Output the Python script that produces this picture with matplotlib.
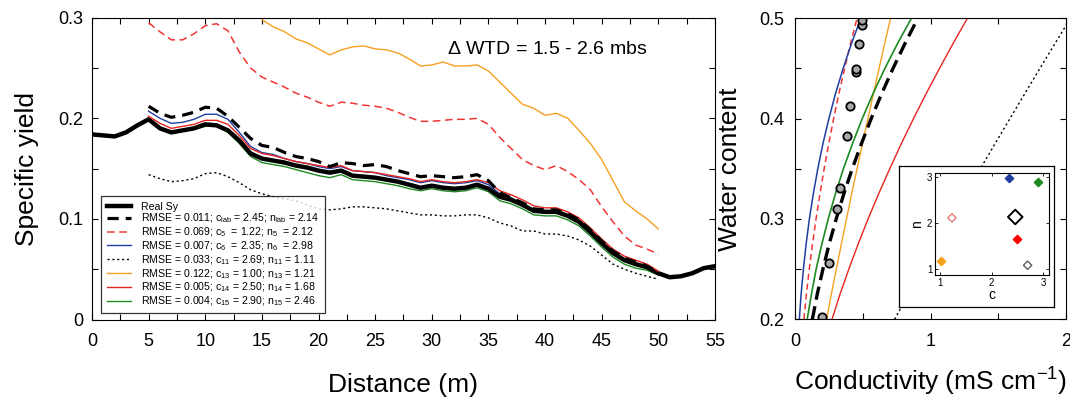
import numpy as np
import matplotlib
matplotlib.use("Agg")
import matplotlib.pyplot as plt
from matplotlib.ticker import MultipleLocator, FuncFormatter

plt.rcParams['font.family'] = ['Liberation Sans', 'DejaVu Sans']
plt.rcParams['mathtext.fontset'] = 'custom'
plt.rcParams['mathtext.rm'] = 'Liberation Sans'
plt.rcParams['mathtext.it'] = 'Liberation Sans:italic'

# ---- left panel: specific yield along the profile ----
dist_real = np.arange(0, 56)
sy_real = [0.184, 0.183, 0.182, 0.186, 0.193, 0.199, 0.190, 0.186, 0.188, 0.190,
           0.194, 0.193, 0.188, 0.178, 0.165, 0.160, 0.158, 0.156, 0.153, 0.151,
           0.148, 0.146, 0.148, 0.143, 0.142, 0.141, 0.139, 0.137, 0.134, 0.131,
           0.133, 0.131, 0.130, 0.131, 0.134, 0.130, 0.122, 0.119, 0.114, 0.108,
           0.107, 0.107, 0.103, 0.097, 0.087, 0.076, 0.066, 0.059, 0.055, 0.052,
           0.046, 0.042, 0.043, 0.046, 0.051, 0.053]

dist_model = np.arange(5, 51)
sy_lab = [0.212, 0.205, 0.201, 0.203, 0.206, 0.211, 0.210, 0.202, 0.191, 0.180,
          0.173, 0.171, 0.166, 0.162, 0.160, 0.157, 0.152, 0.156, 0.155, 0.153,
          0.154, 0.152, 0.148, 0.145, 0.142, 0.143, 0.142, 0.141, 0.142, 0.144,
          0.138, 0.126, 0.121, 0.116, 0.110, 0.109, 0.109, 0.105, 0.099, 0.089,
          0.078, 0.068, 0.061, 0.057, 0.053, 0.047]
sy_c5 = [0.295, 0.286, 0.278, 0.278, 0.284, 0.292, 0.294, 0.287, 0.266, 0.250,
         0.241, 0.236, 0.231, 0.225, 0.221, 0.216, 0.212, 0.216, 0.215, 0.213,
         0.212, 0.210, 0.206, 0.201, 0.197, 0.197, 0.198, 0.199, 0.199, 0.200,
         0.194, 0.181, 0.170, 0.159, 0.153, 0.149, 0.153, 0.147, 0.139, 0.129,
         0.112, 0.097, 0.083, 0.074, 0.070, 0.065]
sy_c6 = [0.207, 0.200, 0.195, 0.196, 0.199, 0.204, 0.204, 0.199, 0.186, 0.172,
         0.166, 0.164, 0.160, 0.157, 0.155, 0.152, 0.150, 0.152, 0.148, 0.147,
         0.146, 0.143, 0.141, 0.139, 0.136, 0.138, 0.136, 0.135, 0.136, 0.138,
         0.134, 0.125, 0.121, 0.115, 0.109, 0.108, 0.108, 0.104, 0.098, 0.088,
         0.077, 0.067, 0.060, 0.056, 0.052, 0.046]
sy_c11 = [0.144, 0.140, 0.137, 0.138, 0.140, 0.145, 0.146, 0.142, 0.136, 0.129,
          0.125, 0.122, 0.120, 0.118, 0.114, 0.110, 0.109, 0.110, 0.112, 0.112,
          0.111, 0.110, 0.108, 0.106, 0.104, 0.104, 0.103, 0.103, 0.104, 0.104,
          0.101, 0.096, 0.093, 0.088, 0.088, 0.085, 0.085, 0.083, 0.079, 0.073,
          0.064, 0.055, 0.050, 0.046, 0.043, 0.040]
dist_c13 = np.arange(15, 51)
sy_c13 = [0.298, 0.291, 0.286, 0.279, 0.275, 0.269, 0.263, 0.268, 0.271, 0.272,
          0.269, 0.268, 0.265, 0.259, 0.252, 0.253, 0.256, 0.252, 0.252, 0.253,
          0.247, 0.236, 0.225, 0.214, 0.210, 0.203, 0.205, 0.200, 0.188, 0.175,
          0.159, 0.138, 0.117, 0.108, 0.100, 0.090]
sy_c14 = [0.202, 0.195, 0.190, 0.192, 0.194, 0.198, 0.198, 0.194, 0.183, 0.170,
          0.165, 0.163, 0.160, 0.157, 0.155, 0.153, 0.151, 0.153, 0.148, 0.147,
          0.146, 0.144, 0.142, 0.140, 0.137, 0.139, 0.137, 0.136, 0.137, 0.139,
          0.136, 0.128, 0.124, 0.119, 0.113, 0.111, 0.111, 0.107, 0.101, 0.091,
          0.080, 0.070, 0.063, 0.059, 0.055, 0.048]
sy_c15 = [0.199, 0.189, 0.185, 0.187, 0.189, 0.192, 0.192, 0.186, 0.175, 0.162,
          0.156, 0.154, 0.152, 0.149, 0.146, 0.143, 0.141, 0.144, 0.139, 0.138,
          0.137, 0.135, 0.133, 0.130, 0.128, 0.130, 0.128, 0.127, 0.128, 0.131,
          0.127, 0.118, 0.115, 0.110, 0.104, 0.103, 0.103, 0.099, 0.093, 0.083,
          0.072, 0.062, 0.055, 0.051, 0.049, 0.044]

labels = ['Real Sy',
          r'RMSE = 0.011; c$_{\mathrm{lab}}$ = 2.45; n$_{\mathrm{lab}}$ = 2.14',
          r'RMSE = 0.069; c$_{5}$  = 1.22; n$_{5}$  = 2.12',
          r'RMSE = 0.007; c$_{6}$  = 2.35; n$_{6}$  = 2.98',
          r'RMSE = 0.033; c$_{11}$ = 2.69; n$_{11}$ = 1.11',
          r'RMSE = 0.122; c$_{13}$ = 1.00; n$_{13}$ = 1.21',
          r'RMSE = 0.005; c$_{14}$ = 2.50; n$_{14}$ = 1.68',
          r'RMSE = 0.004; c$_{15}$ = 2.90; n$_{15}$ = 2.46']

# ---- right panel: water content vs conductivity ----
theta = [0.200, 0.225, 0.250, 0.275, 0.300, 0.325, 0.350, 0.375, 0.400,
         0.425, 0.450, 0.475, 0.500]
ec_lab = [0.128, 0.164, 0.206, 0.252, 0.304, 0.360, 0.422, 0.490, 0.562, 0.640, 0.723, 0.812, 0.906]
ec_c5 = [0.066, 0.084, 0.105, 0.129, 0.155, 0.184, 0.215, 0.249, 0.285, 0.324, 0.366, 0.410, 0.458]
ec_c6 = [0.032, 0.045, 0.062, 0.082, 0.106, 0.135, 0.168, 0.206, 0.250, 0.299, 0.355, 0.417, 0.486]
ec_c11 = [0.735, 0.837, 0.941, 1.046, 1.152, 1.259, 1.367, 1.476, 1.586, 1.696, 1.807, 1.919, 2.032]
ec_c13 = [0.233, 0.268, 0.305, 0.342, 0.380, 0.418, 0.458, 0.498, 0.538, 0.579, 0.620, 0.662, 0.705]
ec_c14 = [0.273, 0.332, 0.397, 0.466, 0.539, 0.617, 0.699, 0.784, 0.874, 0.968, 1.066, 1.167, 1.272]
ec_c15 = [0.090, 0.121, 0.156, 0.198, 0.245, 0.298, 0.357, 0.424, 0.496, 0.576, 0.663, 0.757, 0.859]

ec_meas = [0.197, 0.253, 0.312, 0.332, 0.381, 0.406, 0.450, 0.450, 0.472, 0.492, 0.492]
theta_meas = [0.202, 0.256, 0.310, 0.331, 0.383, 0.413, 0.446, 0.449, 0.474, 0.493, 0.498]

# inset: fitted c and n
c_vals = [2.46, 1.23, 2.34, 2.70, 1.01, 2.50, 2.91]
n_vals = [2.14, 2.12, 2.99, 1.09, 1.19, 1.67, 2.91]

BLUE = '#1f3fa0'
RED = '#e8231f'
GREEN = '#1e8a22'
ORANGE = '#f5a020'

fig = plt.figure(figsize=(10.70, 3.97), dpi=100)
ax = fig.add_axes([0.0860, 0.1952, 0.5822, 0.7602])

ax.plot(dist_real, sy_real, color='black', lw=3.2, label=labels[0], zorder=4)
ax.plot(dist_model, sy_lab, color='black', lw=2.3, dashes=(3.5, 2.2), label=labels[1], zorder=6)
ax.plot(dist_model, sy_c5, color='#f03535', lw=1.1, dashes=(5, 3), label=labels[2], zorder=3)
ax.plot(dist_model, sy_c6, color=BLUE, lw=1.0, label=labels[3], zorder=3)
ax.plot(dist_model, sy_c11, color='black', lw=1.0, dashes=(1.5, 2), label=labels[4], zorder=3)
ax.plot(dist_c13, sy_c13, color=ORANGE, lw=1.0, label=labels[5], zorder=3)
ax.plot(dist_model, sy_c14, color=RED, lw=1.0, label=labels[6], zorder=5)
ax.plot(dist_model, sy_c15, color=GREEN, lw=1.0, label=labels[7], zorder=3)

ax.set_xlim(0, 55)
ax.set_ylim(0, 0.3)
ax.xaxis.set_major_locator(MultipleLocator(5))
ax.xaxis.set_minor_locator(MultipleLocator(2.5))
ax.yaxis.set_major_locator(MultipleLocator(0.1))
ax.yaxis.set_minor_locator(MultipleLocator(0.05))
fmt = FuncFormatter(lambda v, p: '%g' % round(v, 3))
ax.xaxis.set_major_formatter(fmt)
ax.yaxis.set_major_formatter(fmt)
ax.tick_params(which='both', direction='in', top=True, right=True, length=4, width=0.8)
ax.tick_params(axis='x', labelsize=13, pad=10)
ax.tick_params(axis='y', labelsize=13, pad=6)
ax.set_xlabel('Distance (m)', fontsize=19, labelpad=16)
ax.set_ylabel('Specific yield', fontsize=19, labelpad=14)
ax.text(0.57, 0.88, r'$\Delta$ WTD = 1.5 - 2.6 mbs', transform=ax.transAxes, fontsize=14)

leg = ax.legend(loc='lower left', bbox_to_anchor=(0.015, 0.02), borderaxespad=0,
                fontsize=7.6, frameon=True, fancybox=False, edgecolor='black',
                labelspacing=0.02, handlelength=2.3, handletextpad=1.0, borderpad=0.5)
leg.get_frame().set_linewidth(0.9)

# right panel
ax2 = fig.add_axes([0.7430, 0.1957, 0.2533, 0.7582])
ax2.plot(ec_c11, theta, color='black', lw=1.0, dashes=(1.5, 2))
ax2.plot(ec_c14, theta, color=RED, lw=1.0)
ax2.plot(ec_c13, theta, color=ORANGE, lw=1.0)
ax2.plot(ec_c15, theta, color=GREEN, lw=1.2)
ax2.plot(ec_c5, theta, color='#f03535', lw=1.1, dashes=(4, 2.5))
ax2.plot(ec_c6, theta, color=BLUE, lw=1.1)
ax2.plot(ec_lab, theta, color='black', lw=2.4, dashes=(4, 2))
ax2.plot(ec_meas, theta_meas, 'o', ms=6, mfc='#a8a8a8', mec='black', mew=1.3)
ax2.set_xlim(0, 2)
ax2.set_ylim(0.2, 0.5)
ax2.xaxis.set_major_locator(MultipleLocator(1))
ax2.xaxis.set_minor_locator(MultipleLocator(0.5))
ax2.yaxis.set_major_locator(MultipleLocator(0.1))
ax2.yaxis.set_minor_locator(MultipleLocator(0.05))
ax2.xaxis.set_major_formatter(fmt)
ax2.yaxis.set_major_formatter(fmt)
ax2.tick_params(which='both', direction='in', top=True, right=True, length=4, width=0.8)
ax2.tick_params(axis='x', labelsize=13, pad=10)
ax2.tick_params(axis='y', labelsize=13, pad=8)
ax2.set_xlabel(r'Conductivity (mS cm$^{-1}$)', fontsize=19, labelpad=11)
ax2.set_ylabel('Water content', fontsize=19, labelpad=12)

# inset box (white panel that hides the curves behind it)
box = fig.add_axes([0.8405, 0.2275, 0.1446, 0.3544])
box.set_xticks([])
box.set_yticks([])
box.set_facecolor('white')
for s in box.spines.values():
    s.set_linewidth(0.9)

ins = fig.add_axes([0.8738, 0.3065, 0.1068, 0.2569])
ins.scatter(c_vals[0], n_vals[0], marker='D', s=55, facecolor='none', edgecolor='black', linewidth=1.4, zorder=3)
ins.scatter(c_vals[1], n_vals[1], marker='D', s=18, facecolor='none', edgecolor='#e87070', linewidth=0.9, zorder=3)
ins.scatter(c_vals[2], n_vals[2], marker='D', s=18, color=BLUE, zorder=3)
ins.scatter(c_vals[3], n_vals[3], marker='D', s=18, facecolor='none', edgecolor='#505050', linewidth=0.9, zorder=3)
ins.scatter(c_vals[4], n_vals[4], marker='D', s=18, color=ORANGE, zorder=3)
ins.scatter(c_vals[5], n_vals[5], marker='D', s=18, color='red', zorder=3)
ins.scatter(c_vals[6], n_vals[6], marker='D', s=18, color=GREEN, zorder=3)
ins.set_xlim(0.9, 3.12)
ins.set_ylim(0.87, 3.09)
ins.set_xticks([1, 2, 3])
ins.set_yticks([1, 2, 3])
ins.tick_params(direction='in', top=True, right=True, length=2.5, width=0.6, labelsize=7, pad=2)
ins.set_xlabel('c', fontsize=10, labelpad=0)
ins.set_ylabel('n', fontsize=10, labelpad=2)

fig.savefig('out.png', dpi=100)
